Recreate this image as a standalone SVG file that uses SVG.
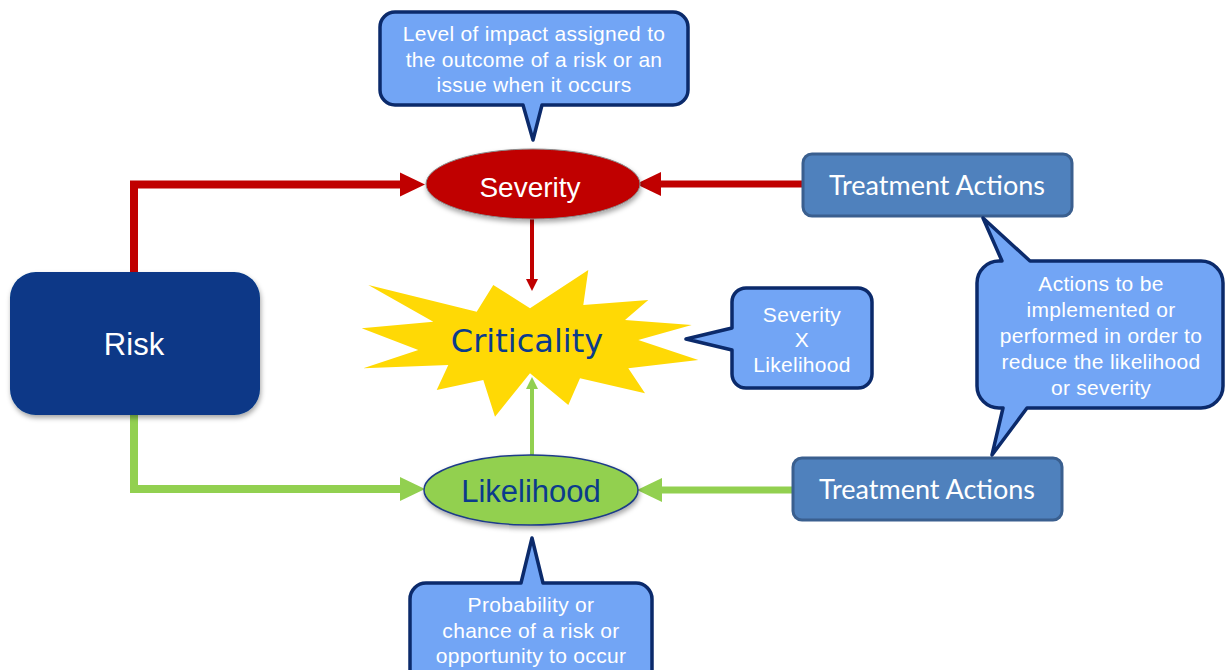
<svg xmlns="http://www.w3.org/2000/svg" width="1226" height="670" viewBox="0 0 1226 670">
<defs>
<style>
.callout{fill:#72a5f5;stroke:#0b2a6b;stroke-width:3.5;stroke-linejoin:round}
.ctext{font-family:"Liberation Sans",Arial,sans-serif;font-size:21px;letter-spacing:0.3px;fill:#ffffff;text-anchor:middle}
.treat{fill:#4f81bd;stroke:#3a5f8f;stroke-width:3}
.ttext{font-family:Lato,"Liberation Sans",sans-serif;font-size:27px;fill:#ffffff;text-anchor:middle}
.red{fill:none;stroke:#c00000}
.green{fill:none;stroke:#92d050}
</style>
<filter id="sh" x="-10%" y="-10%" width="130%" height="140%">
<feDropShadow dx="1" dy="3" stdDeviation="2.5" flood-color="#000000" flood-opacity="0.35"/>
</filter>
<marker id="aRed" markerUnits="userSpaceOnUse" viewBox="0 0 26 26" markerWidth="26" markerHeight="26" refX="0" refY="13" orient="auto">
<path d="M0,1 L25,13 L0,25 Z" fill="#c00000"/>
</marker>
<marker id="aGreen" markerUnits="userSpaceOnUse" viewBox="0 0 26 26" markerWidth="26" markerHeight="26" refX="0" refY="13" orient="auto">
<path d="M0,1 L25,13 L0,25 Z" fill="#92d050"/>
</marker>
<marker id="sRed" markerUnits="userSpaceOnUse" viewBox="0 0 14 14" markerWidth="14" markerHeight="14" refX="0" refY="7" orient="auto">
<path d="M0,1 L12,7 L0,13 Z" fill="#c00000"/>
</marker>
<marker id="sGreen" markerUnits="userSpaceOnUse" viewBox="0 0 14 14" markerWidth="14" markerHeight="14" refX="0" refY="7" orient="auto">
<path d="M0,1 L12,7 L0,13 Z" fill="#92d050"/>
</marker>
</defs>
<rect width="1226" height="670" fill="#ffffff"/>

<g id="connectors">
<path class="red" stroke-width="8" d="M134,272 V184.5 H400" marker-end="url(#aRed)"/>
<path class="green" stroke-width="8" d="M134,415 V489 H400" marker-end="url(#aGreen)"/>
<path class="red" stroke-width="7" d="M803,184 H661" marker-end="url(#aRed)"/>
<path class="green" stroke-width="7" d="M793,490 H662" marker-end="url(#aGreen)"/>
<path class="red" stroke-width="4" d="M532,219 V279" marker-end="url(#sRed)"/>
<path class="green" stroke-width="4" d="M532,455 V389" marker-end="url(#sGreen)"/>
</g>

<g id="risk">
<rect x="10" y="272" width="250" height="143" rx="26" fill="#073887" filter="url(#sh)"/>
<text x="134" y="355" font-family="'Liberation Sans',Arial,sans-serif" font-size="31" fill="#ffffff" text-anchor="middle">Risk</text>
</g>

<g id="severity">
<ellipse cx="533" cy="184" rx="107" ry="35" fill="#c00000" stroke="#8a8a8a" stroke-width="1" filter="url(#sh)"/>
<text x="530" y="197" font-family="'Liberation Sans',Arial,sans-serif" font-size="28" fill="#ffffff" text-anchor="middle">Severity</text>
</g>

<g id="likelihood">
<ellipse cx="531" cy="490" rx="107" ry="35" fill="#92d050" stroke="#1f3c88" stroke-width="1.5" filter="url(#sh)"/>
<text x="531" y="502" font-family="'Liberation Sans',Arial,sans-serif" font-size="31" fill="#0b3b8c" text-anchor="middle">Likelihood</text>
</g>

<g id="criticality">
<polygon fill="#ffd905" points="368.3,285 476.7,311.7 493.3,285 530,308.3 588.3,270 583.3,305 648.3,300 625,320 691.7,325 638.3,340 698.3,360 628.3,368.3 645,393.3 580,378.3 568.3,405 530,373.3 495,416.7 483.3,380 436.7,390 448.3,365 363.3,368.3 418.3,350 361.7,328.3 433.3,321.7"/>
<text x="527" y="352" font-family="'DejaVu Sans',Verdana,sans-serif" font-size="32" fill="#0b3b8c" text-anchor="middle">Criticality</text>
</g>

<g id="treatment-top">
<rect class="treat" x="803" y="154" width="269" height="62" rx="9"/>
<text class="ttext" x="937" y="195">Treatment Actions</text>
</g>

<g id="treatment-bottom">
<rect class="treat" x="793" y="458" width="269" height="62" rx="9"/>
<text class="ttext" x="927" y="499">Treatment Actions</text>
</g>

<g id="callout-severity">
<path class="callout" d="M395,12 H673 A15,15 0 0 1 688,27 V90 A15,15 0 0 1 673,105 H542 L533,140 L523,105 H395 A15,15 0 0 1 380,90 V27 A15,15 0 0 1 395,12 Z"/>
<text class="ctext" x="534" y="41">Level of impact assigned to</text>
<text class="ctext" x="534" y="67">the outcome of a risk or an</text>
<text class="ctext" x="534" y="92">issue when it occurs</text>
</g>

<g id="callout-treatment">
<path class="callout" d="M999,261 H1002 L983,218 L1030,261 H1201 A22,22 0 0 1 1223,283 V386 A22,22 0 0 1 1201,408 H1027 L992,455 L1003,408 H999 A22,22 0 0 1 977,386 V283 A22,22 0 0 1 999,261 Z"/>
<text class="ctext" x="1101" y="291">Actions to be</text>
<text class="ctext" x="1101" y="317">implemented or</text>
<text class="ctext" x="1101" y="343">performed in order to</text>
<text class="ctext" x="1101" y="369">reduce the likelihood</text>
<text class="ctext" x="1101" y="395">or severity</text>
</g>

<g id="callout-criticality">
<path class="callout" d="M746,288 H858 A14,14 0 0 1 872,302 V374 A14,14 0 0 1 858,388 H746 A14,14 0 0 1 732,374 V350 L686,339 L732,328 V302 A14,14 0 0 1 746,288 Z"/>
<text class="ctext" x="802" y="322">Severity</text>
<text class="ctext" x="802" y="347">X</text>
<text class="ctext" x="802" y="372">Likelihood</text>
</g>

<g id="callout-likelihood">
<path class="callout" d="M426,583 H521 L532,538 L543,583 H636 A16,16 0 0 1 652,599 V700 H410 V599 A16,16 0 0 1 426,583 Z"/>
<text class="ctext" x="531" y="612">Probability or</text>
<text class="ctext" x="531" y="638">chance of a risk or</text>
<text class="ctext" x="531" y="663">opportunity to occur</text>
</g>
</svg>
